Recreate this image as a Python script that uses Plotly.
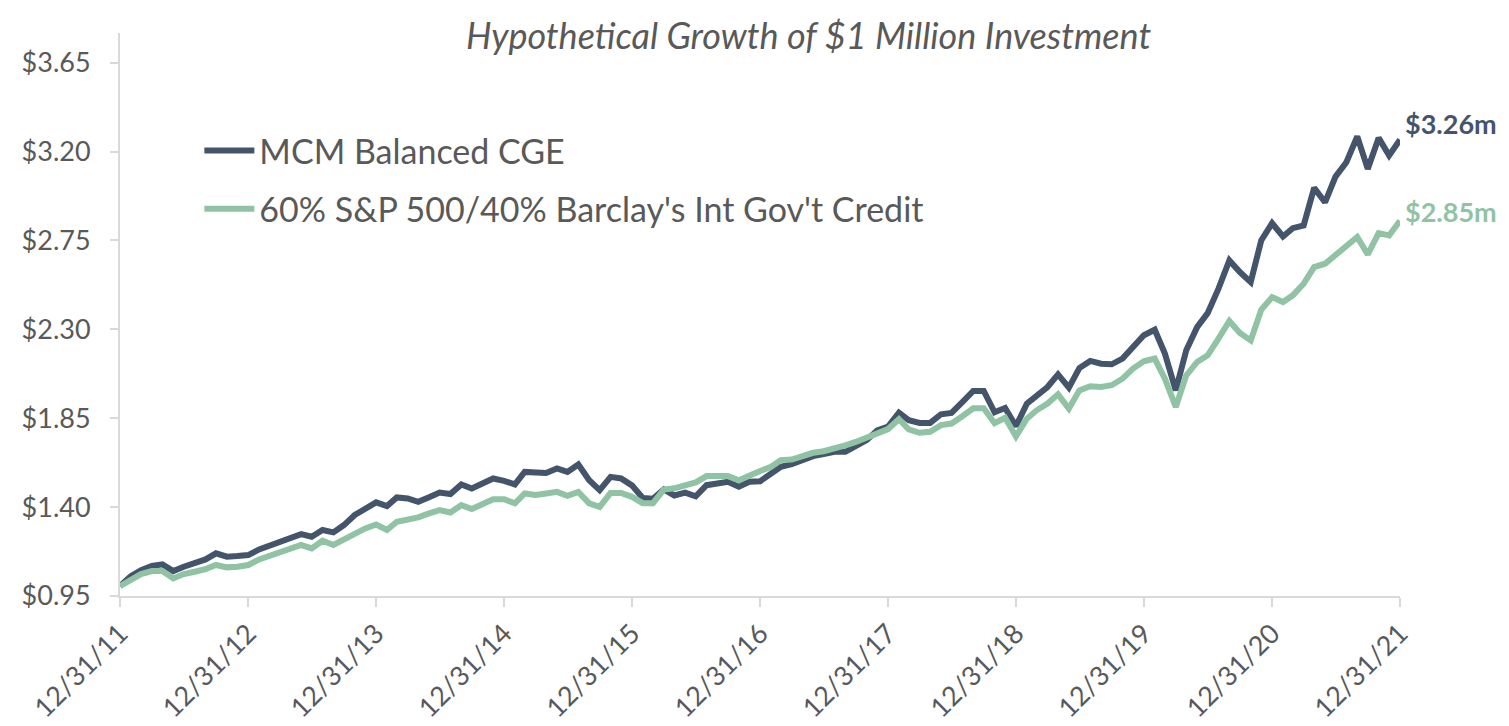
import pandas as pd
import plotly.graph_objects as go

# ---- data (monthly, growth of $1 million, in $ millions) ----
dates = pd.date_range("2011-12-31", periods=121, freq="ME")

mcm_balanced = [
    1.00, 1.051, 1.081, 1.102, 1.110, 1.076, 1.098, 1.115, 1.135, 1.166, 1.149, 1.152,
    1.157, 1.186, 1.204, 1.225, 1.247, 1.263, 1.250, 1.284, 1.272, 1.309, 1.360, 1.388,
    1.424, 1.405, 1.449, 1.444, 1.427, 1.450, 1.474, 1.466, 1.515, 1.494, 1.520, 1.545,
    1.533, 1.515, 1.578, 1.578, 1.573, 1.596, 1.578, 1.616, 1.536, 1.486, 1.553, 1.545,
    1.510, 1.446, 1.442, 1.490, 1.459, 1.473, 1.455, 1.511, 1.520, 1.528, 1.503, 1.528,
    1.531, 1.570, 1.604, 1.617, 1.638, 1.658, 1.668, 1.680, 1.680, 1.705, 1.739, 1.789,
    1.808, 1.878, 1.840, 1.826, 1.826, 1.870, 1.877, 1.932, 1.988, 1.988, 1.880, 1.902,
    1.810, 1.924, 1.966, 2.008, 2.072, 2.005, 2.104, 2.140, 2.126, 2.123, 2.152, 2.214,
    2.270, 2.298, 2.177, 1.991, 2.194, 2.311, 2.382, 2.506, 2.649, 2.590, 2.539, 2.750,
    2.837, 2.770, 2.812, 2.826, 3.016, 2.943, 3.073, 3.146, 3.276, 3.112, 3.269, 3.180,
    3.26,
]

benchmark_60_40 = [
    1.00, 1.031, 1.061, 1.076, 1.076, 1.039, 1.061, 1.073, 1.086, 1.107, 1.095, 1.098,
    1.107, 1.135, 1.152, 1.177, 1.196, 1.208, 1.191, 1.230, 1.208, 1.237, 1.270, 1.292,
    1.312, 1.284, 1.326, 1.335, 1.348, 1.368, 1.385, 1.373, 1.410, 1.390, 1.415, 1.440,
    1.440, 1.419, 1.469, 1.461, 1.469, 1.477, 1.457, 1.477, 1.419, 1.401, 1.472, 1.472,
    1.452, 1.420, 1.420, 1.489, 1.495, 1.511, 1.525, 1.557, 1.557, 1.557, 1.536, 1.562,
    1.583, 1.604, 1.638, 1.641, 1.658, 1.675, 1.683, 1.702, 1.713, 1.730, 1.752, 1.781,
    1.795, 1.845, 1.793, 1.776, 1.781, 1.815, 1.823, 1.860, 1.900, 1.900, 1.825, 1.852,
    1.758, 1.848, 1.890, 1.924, 1.971, 1.899, 1.991, 2.012, 2.008, 2.017, 2.050, 2.101,
    2.138, 2.152, 2.050, 1.907, 2.067, 2.135, 2.168, 2.253, 2.342, 2.281, 2.244, 2.399,
    2.463, 2.438, 2.472, 2.531, 2.615, 2.632, 2.674, 2.719, 2.767, 2.679, 2.787, 2.775,
    2.85,
]

series_names = ["MCM Balanced CGE", "60% S&P 500/40% Barclay's Int Gov't Credit"]
series_colors = ["#44546A", "#8FC3A3"]

tick_dates = pd.date_range("2011-12-31", periods=11, freq="12ME")
tick_labels = [d.strftime("%m/%d/%y") for d in tick_dates]

title_text = "Hypothetical Growth of $1 Million Investment"

FONT = "Lato"
GREY = "#595959"

fig = go.Figure()
for i, (name, vals, col) in enumerate(zip(series_names, [mcm_balanced, benchmark_60_40], series_colors)):
    fig.add_trace(go.Scatter(
        x=dates, y=vals, mode="lines", name=name,
        line=dict(color=col, width=6, shape="linear"),
        legendgroup=f"g{i}",
    ))

# end labels
for vals, col, ys in zip([mcm_balanced, benchmark_60_40], series_colors, [16, 9]):
    fig.add_annotation(
        x=dates[-1], y=vals[-1], xref="x", yref="y",
        text=f"<b>${vals[-1]:.2f}m</b>", showarrow=False,
        xanchor="left", yanchor="middle", xshift=3, yshift=ys,
        font=dict(family=FONT, size=27, color=col),
    )

fig.add_annotation(
    x=0.5375, y=1, xref="paper", yref="paper",
    text=f"<i>{title_text}</i>", showarrow=False,
    xanchor="center", yanchor="middle", yshift=-2,
    font=dict(family=FONT, size=36, color=GREY),
)

fig.update_layout(
    width=1501, height=718,
    margin=dict(l=112, r=109, t=25, b=130),
    paper_bgcolor="white", plot_bgcolor="white",
    showlegend=True,
    legend=dict(
        x=0.062, y=0.842, xanchor="left", yanchor="top",
        font=dict(family=FONT, size=34, color=GREY),
        bgcolor="rgba(0,0,0,0)", tracegroupgap=11,
        itemwidth=50,
    ),
    font=dict(family=FONT, color=GREY),
)

fig.update_xaxes(
    type="date",
    range=[dates[0], dates[-1]],
    tickvals=tick_dates, ticktext=tick_labels,
    tickangle=-45,
    tickfont=dict(family=FONT, size=27, color=GREY),
    showline=True, linecolor="#D9D9D9", linewidth=2,
    ticks="outside", ticklen=9, tickcolor="#D9D9D9", tickwidth=2,
    showgrid=False, zeroline=False, automargin=False,
)
fig.update_yaxes(
    range=[0.95, 3.8],
    tick0=0.95, dtick=0.45, tickmode="linear",
    tickformat="$.2f",
    tickfont=dict(family=FONT, size=27, color=GREY),
    ticklabelstandoff=14,
    showline=True, linecolor="#D9D9D9", linewidth=2,
    ticks="outside", ticklen=8, tickcolor="#D9D9D9", tickwidth=2,
    showgrid=False, zeroline=False, automargin=False,
)

fig.write_html("out.html")
